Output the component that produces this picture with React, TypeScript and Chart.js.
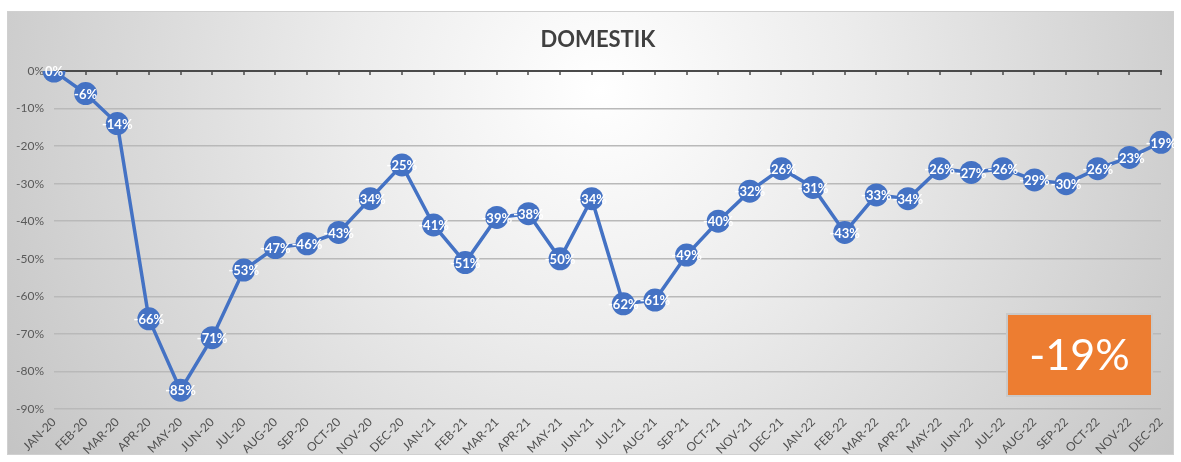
import React, { useEffect, useRef } from "react";
import { Chart, registerables } from "chart.js";

Chart.register(...registerables);

const months = [
  "JAN-20", "FEB-20", "MAR-20", "APR-20", "MAY-20", "JUN-20", "JUL-20", "AUG-20", "SEP-20", "OCT-20", "NOV-20", "DEC-20",
  "JAN-21", "FEB-21", "MAR-21", "APR-21", "MAY-21", "JUN-21", "JUL-21", "AUG-21", "SEP-21", "OCT-21", "NOV-21", "DEC-21",
  "JAN-22", "FEB-22", "MAR-22", "APR-22", "MAY-22", "JUN-22", "JUL-22", "AUG-22", "SEP-22", "OCT-22", "NOV-22", "DEC-22",
];

const domestikValues = [
  0, -6, -14, -66, -85, -71, -53, -47, -46, -43, -34, -25,
  -41, -51, -39, -38, -50, -34, -62, -61, -49, -40, -32, -26,
  -31, -43, -33, -34, -26, -27, -26, -29, -30, -26, -23, -19,
];

const chartTitle = "DOMESTIK";
const highlightText = "-19%";
const yMin = -90;
const yMax = 0;
const yStep = 10;

const FONT = "Lato, 'Open Sans', sans-serif";
const BLUE = "#4472C4";

const backgroundPlugin = {
  id: "bg",
  beforeDraw(chart: any) {
    const { ctx, width, height } = chart;
    ctx.save();
    ctx.fillStyle = "#ffffff";
    ctx.fillRect(0, 0, width, height);
    const x0 = 7, y0 = 11, x1 = 1174, y1 = 455;
    const g = ctx.createRadialGradient(600, 90, 0, 600, 90, 720);
    g.addColorStop(0, "#ffffff");
    g.addColorStop(0.35, "#ececec");
    g.addColorStop(1, "#c2c2c2");
    ctx.fillStyle = g;
    ctx.fillRect(x0, y0, x1 - x0, y1 - y0);
    ctx.strokeStyle = "#d0d0d0";
    ctx.lineWidth = 1;
    ctx.strokeRect(x0 + 0.5, y0 + 0.5, x1 - x0 - 1, y1 - y0 - 1);
    ctx.restore();
  },
};

const axisLinePlugin = {
  id: "axisLine",
  beforeDatasetsDraw(chart: any) {
    const { ctx, chartArea, scales } = chart;
    const y = scales.y.getPixelForValue(0);
    ctx.save();
    ctx.strokeStyle = "#4a4a4a";
    ctx.lineWidth = 2;
    ctx.beginPath();
    ctx.moveTo(chartArea.left, y);
    ctx.lineTo(chartArea.right + 1, y);
    ctx.stroke();
    ctx.lineWidth = 1.5;
    for (let i = 0; i < months.length; i++) {
      const x = Math.round(scales.x.getPixelForValue(i));
      ctx.beginPath();
      ctx.moveTo(x, y);
      ctx.lineTo(x, y + 4);
      ctx.stroke();
    }
    ctx.restore();
  },
};

const labelsPlugin = {
  id: "pointLabels",
  afterDatasetsDraw(chart: any) {
    const { ctx } = chart;
    const meta = chart.getDatasetMeta(0);
    ctx.save();
    ctx.fillStyle = "#ffffff";
    ctx.font = `bold 13px ${FONT}`;
    ctx.textAlign = "center";
    ctx.textBaseline = "middle";
    meta.data.forEach((pt: any, i: number) => {
      ctx.fillText(`${domestikValues[i]}%`, pt.x, pt.y + 1);
    });
    ctx.restore();
  },
};

const overlayPlugin = {
  id: "overlay",
  afterDraw(chart: any) {
    const { ctx } = chart;
    ctx.save();
    ctx.fillStyle = "#404040";
    ctx.font = `bold 22px ${FONT}`;
    ctx.textAlign = "center";
    ctx.textBaseline = "middle";
    ctx.fillText(chartTitle, 598, 40);

    const bx = 1007, by = 314, bw = 145, bh = 82;
    ctx.fillStyle = "#ED7D31";
    ctx.fillRect(bx, by, bw, bh);
    ctx.strokeStyle = "#c9c9c9";
    ctx.lineWidth = 2;
    ctx.strokeRect(bx, by, bw, bh);
    ctx.fillStyle = "#ffffff";
    ctx.font = `normal 43px ${FONT}`;
    ctx.fillText(highlightText, bx + bw / 2, by + bh / 2 + 1);
    ctx.restore();
  },
};

export default function App() {
  const canvasRef = useRef<HTMLCanvasElement | null>(null);

  useEffect(() => {
    if (!canvasRef.current) return;
    const chart = new Chart(canvasRef.current, {
      type: "line",
      data: {
        labels: months,
        datasets: [
          {
            data: domestikValues,
            borderColor: BLUE,
            backgroundColor: BLUE,
            borderWidth: 3.5,
            pointRadius: 11.5,
            pointBackgroundColor: BLUE,
            pointBorderColor: BLUE,
            pointBorderWidth: 0,
            tension: 0,
          },
        ],
      },
      options: {
        responsive: false,
        animation: false,
        layout: { padding: { top: 71, right: 20, left: 0, bottom: 0 } },
        plugins: {
          legend: { display: false },
          title: { display: false },
          tooltip: { enabled: false },
        },
        scales: {
          x: {
            offset: false,
            grid: { display: false, drawTicks: false },
            border: { display: false },
            ticks: {
              autoSkip: false,
              minRotation: 45,
              maxRotation: 45,
              color: "#505050",
              font: { family: FONT, size: 12 },
              padding: 6,
            },
            afterFit(scale: any) {
              scale.height = 53;
              scale.paddingLeft = 0;
              scale.paddingRight = 0;
            },
          },
          y: {
            min: yMin,
            max: yMax,
            grid: {
              color: "#b9b9b9",
              lineWidth: 1.5,
              drawTicks: false,
            },
            border: { display: false },
            ticks: {
              stepSize: yStep,
              color: "#595959",
              font: { family: FONT, size: 12 },
              padding: 10,
              callback: (v: any) => `${v}%`,
            },
            afterFit(scale: any) {
              scale.width = 54;
              scale.paddingTop = 0;
              scale.paddingBottom = 0;
            },
          },
        },
      },
      plugins: [backgroundPlugin, axisLinePlugin, labelsPlugin, overlayPlugin],
    });
    return () => chart.destroy();
  }, []);

  return (
    <div style={{ position: "absolute", left: 0, top: 0, width: 1181, height: 462 }}>
      <canvas ref={canvasRef} width={1181} height={462} style={{ display: "block", width: 1181, height: 462 }} />
    </div>
  );
}
